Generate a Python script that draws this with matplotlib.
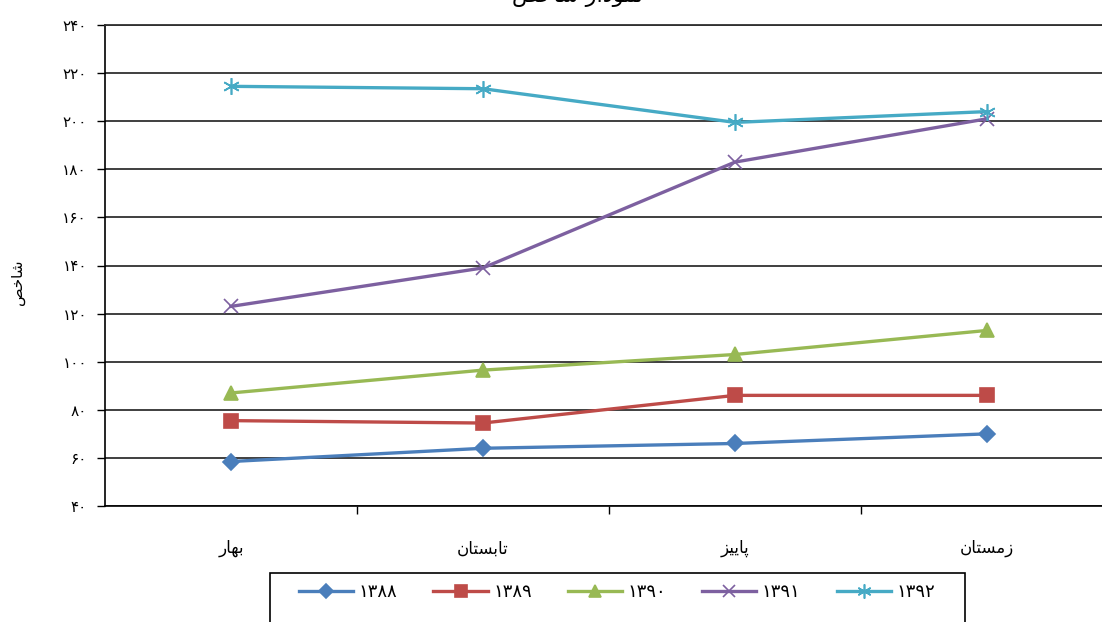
import matplotlib
matplotlib.use('Agg')
import matplotlib.pyplot as plt
from matplotlib.patches import Rectangle

plt.rcParams['font.family'] = ['DejaVu Sans']

# persian text is written in presentation forms, visual (left to right) order
seasons = ['\uFEAD\uFE8E\uFEEC\uFE91',                    # bahar
           '\uFEE5\uFE8E\uFE98\uFEB4\uFE91\uFE8E\uFE97',    # tabestan
           '\uFEB0\uFBFF\uFBFE\uFE8E\uFB58',                # paeez
           '\uFEE5\uFE8E\uFE98\uFEB4\uFEE3\uFEAF']          # zemestan
ylabel_txt = '\uFEBA\uFEA7\uFE8E\uFEB7'
title_txt = '\uFEBA\uFEA7\uFE8E\uFEB7 \uFEAD\uFE8D\uFEA9\uFEEE\uFEE4\uFEE7'

years = ['۱۳۸۸', '۱۳۸۹', '۱۳۹۰', '۱۳۹۱', '۱۳۹۲']
s1388 = [58.5, 64, 66, 70]
s1389 = [75.5, 74.5, 86, 86]
s1390 = [87, 96.5, 103, 113]
s1391 = [123, 139, 183, 201]
s1392 = [214.5, 213.5, 199.5, 204]
yticks = [40, 60, 80, 100, 120, 140, 160, 180, 200, 220, 240]

series = [s1388, s1389, s1390, s1391, s1392]
colors = ['#4A7EBB', '#BE4B48', '#98B954', '#7D60A0', '#46AAC5']
markers = ['D', 's', '^', 'x', (6, 2, 0)]
msizes = [8, 10, 10, 10, 12]

def fa_digits(n):
    return str(n).translate(str.maketrans('0123456789', '۰۱۲۳۴۵۶۷۸۹'))

fig = plt.figure(figsize=(11.02, 6.22), dpi=100)
ax = fig.add_axes([105/1102, 1-506/622, 1008/1102, 481/622])

x = list(range(len(seasons)))
for s, c, m, ms, lab in zip(series, colors, markers, msizes, years):
    ax.plot(x, s, color=c, lw=2.4, marker=m, ms=ms, mec=c, mfc=c,
            mew=1.2, label=lab, zorder=3)

ax.set_xlim(-0.5, 3.5)
ax.set_ylim(40, 240)
ax.set_yticks(yticks)
ax.set_yticklabels([fa_digits(v) for v in yticks], fontsize=11)
ax.yaxis.grid(True, color='#303030', lw=1.3)
ax.tick_params(axis='y', direction='out', length=6, width=1, pad=7)

ax.set_xticks(x)
ax.set_xticklabels(seasons, fontsize=12)
ax.tick_params(axis='x', length=0, pad=24)
ax.set_xticks([0.5, 1.5, 2.5], minor=True)
ax.tick_params(axis='x', which='minor', direction='out', length=6, width=1)

ax.spines['right'].set_visible(False)
ax.spines['top'].set_color('#303030')
ax.spines['top'].set_linewidth(1.3)
ax.spines['left'].set_linewidth(1.2)
ax.spines['bottom'].set_linewidth(1.2)

fig.text(17/1102, 1-282/622, ylabel_txt, rotation=90, fontsize=11,
         ha='center', va='center')
# title sits mostly above the top edge, as in the source image
fig.text(577/1102, 1-(-4)/622, title_txt, fontsize=16, ha='center', va='center')

# legend with box running off the bottom edge
fig.patches.append(Rectangle((270/1102, -0.05), 695/1102, 0.05+1-573/622,
                             transform=fig.transFigure, fill=False,
                             ec='black', lw=1.2))
fig.legend(loc='center', bbox_to_anchor=(617/1102, 1-592/622), ncol=5,
           frameon=False, fontsize=13, handlelength=3.0, columnspacing=2.0,
           handletextpad=0.3, markerscale=0.85)

plt.savefig('out.png', dpi=100)
